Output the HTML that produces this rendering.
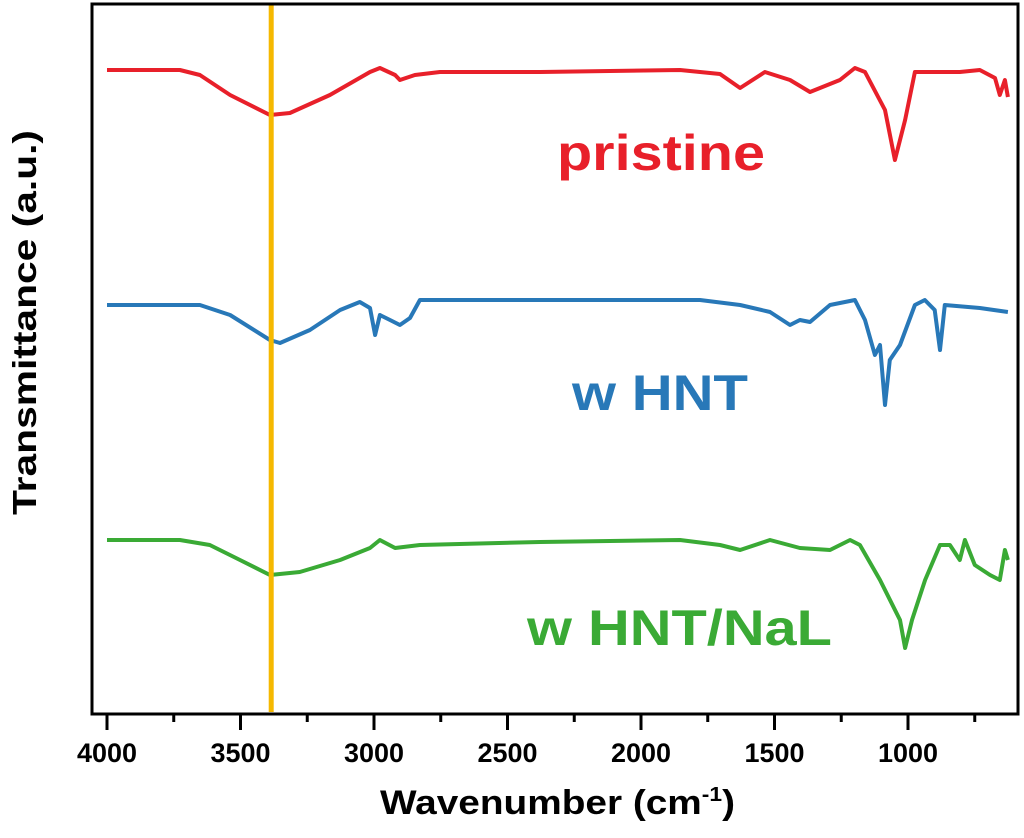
<!DOCTYPE html>
<html><head><meta charset="utf-8"><style>
html,body{margin:0;padding:0;background:#fff;}
svg{display:block;font-family:"Liberation Sans",sans-serif;}
</style></head><body>
<svg id="chart" width="1024" height="838">
<g id="plot"></g>
<rect x="92" y="4" width="926" height="710" fill="none" stroke="#000" stroke-width="3"/>
<g id="xaxis"></g>
<text x="380" y="814" textLength="355" lengthAdjust="spacingAndGlyphs" font-size="34" font-weight="bold">Wavenumber (cm<tspan font-size="20" dy="-13">-1</tspan><tspan dy="13">)</tspan></text>
<text transform="translate(36,515) rotate(-90)" textLength="385" lengthAdjust="spacingAndGlyphs" font-size="33" font-weight="bold">Transmittance (a.u.)</text>
<text x="557" y="170" textLength="208" lengthAdjust="spacingAndGlyphs" font-size="50" font-weight="bold" fill="#e8202a">pristine</text>
<text x="572" y="410" textLength="176" lengthAdjust="spacingAndGlyphs" font-size="50" font-weight="bold" fill="#2878b8">w HNT</text>
<text x="527" y="645" textLength="305" lengthAdjust="spacingAndGlyphs" font-size="50" font-weight="bold" fill="#3aaa35">w HNT/NaL</text>
</svg>
<script>
const xTicks=[4000,3500,3000,2500,2000,1500,1000];
const xMinor=[3750,3250,2750,2250,1750,1250,750];
const markerWavenumber=[3385];
const redW=[4000,3727,3652,3539,3390,3315,3165,3015,2978,2921,2903,2847,2753,2378,1854,1704,1629,1536,1442,1367,1255,1199,1161,1086,1049,1011,974,806,731,674,656,637,626];
const redV=[644,644,639,619,599,601,619,642,646,639,634,639,642,642,644,640,626,642,634,622,634,646,642,604,554,594,642,642,644,636,619,634,617];
const blueW=[4000,3652,3539,3390,3352,3240,3127,3053,3015,2996,2978,2940,2903,2865,2828,2154,1779,1629,1517,1442,1405,1367,1292,1199,1161,1124,1105,1086,1068,1030,974,937,900,880,862,731,626];
const blueV=[409,409,399,374,371,384,404,412,406,379,399,394,389,396,414,414,414,409,402,389,394,392,409,414,394,359,369,309,354,369,409,414,404,364,409,406,402];
const greenW=[4000,3727,3615,3502,3390,3278,3127,3015,2978,2921,2828,2378,1854,1704,1629,1517,1405,1292,1217,1180,1105,1030,1011,985,936,880,843,806,787,750,693,656,637,626];
const greenV=[174,174,169,154,139,142,154,166,174,166,169,172,174,169,164,174,166,164,174,169,134,94,66,94,134,169,169,154,174,149,139,134,164,154];
const NS="http://www.w3.org/2000/svg";
function xs(w){return 107+(4000-w)*0.267;}
function ys(v){return 714-v;}
const plot=document.getElementById('plot');
const xaxis=document.getElementById('xaxis');
function mk(t,a,p){const e=document.createElementNS(NS,t);for(const k in a)e.setAttribute(k,a[k]);p.appendChild(e);return e;}
function series(W,V,color,name){
  const d=W.map((w,i)=>(i?'L':'M')+xs(w).toFixed(1)+','+ys(V[i]).toFixed(1)).join(' ');
  const p=mk('path',{d:d,fill:'none',stroke:color,'stroke-width':4,'stroke-linejoin':'round'},plot);
  
  
}
series(redW,redV,'#e8202a','series-pristine');
series(blueW,blueV,'#2878b8','series-w-hnt');
series(greenW,greenV,'#3aaa35','series-w-hnt-nal');
markerWavenumber.forEach(w=>{
  const l=mk('line',{x1:xs(w),x2:xs(w),y1:5,y2:712,stroke:'#f5b800','stroke-width':5},plot);
  
  
});
xTicks.forEach(w=>{
  const t=mk('line',{x1:xs(w),x2:xs(w),y1:714,y2:730,stroke:'#000','stroke-width':3},xaxis);
  
  
  const tx=mk('text',{x:xs(w)-30,y:762,textLength:60,lengthAdjust:'spacingAndGlyphs','font-size':27,'font-weight':'bold'},xaxis);
  tx.textContent=w;
  
  
});
xMinor.forEach(w=>{
  const t=mk('line',{x1:xs(w),x2:xs(w),y1:714,y2:722,stroke:'#000','stroke-width':3},xaxis);
  
  
});
</script>
</body></html>
